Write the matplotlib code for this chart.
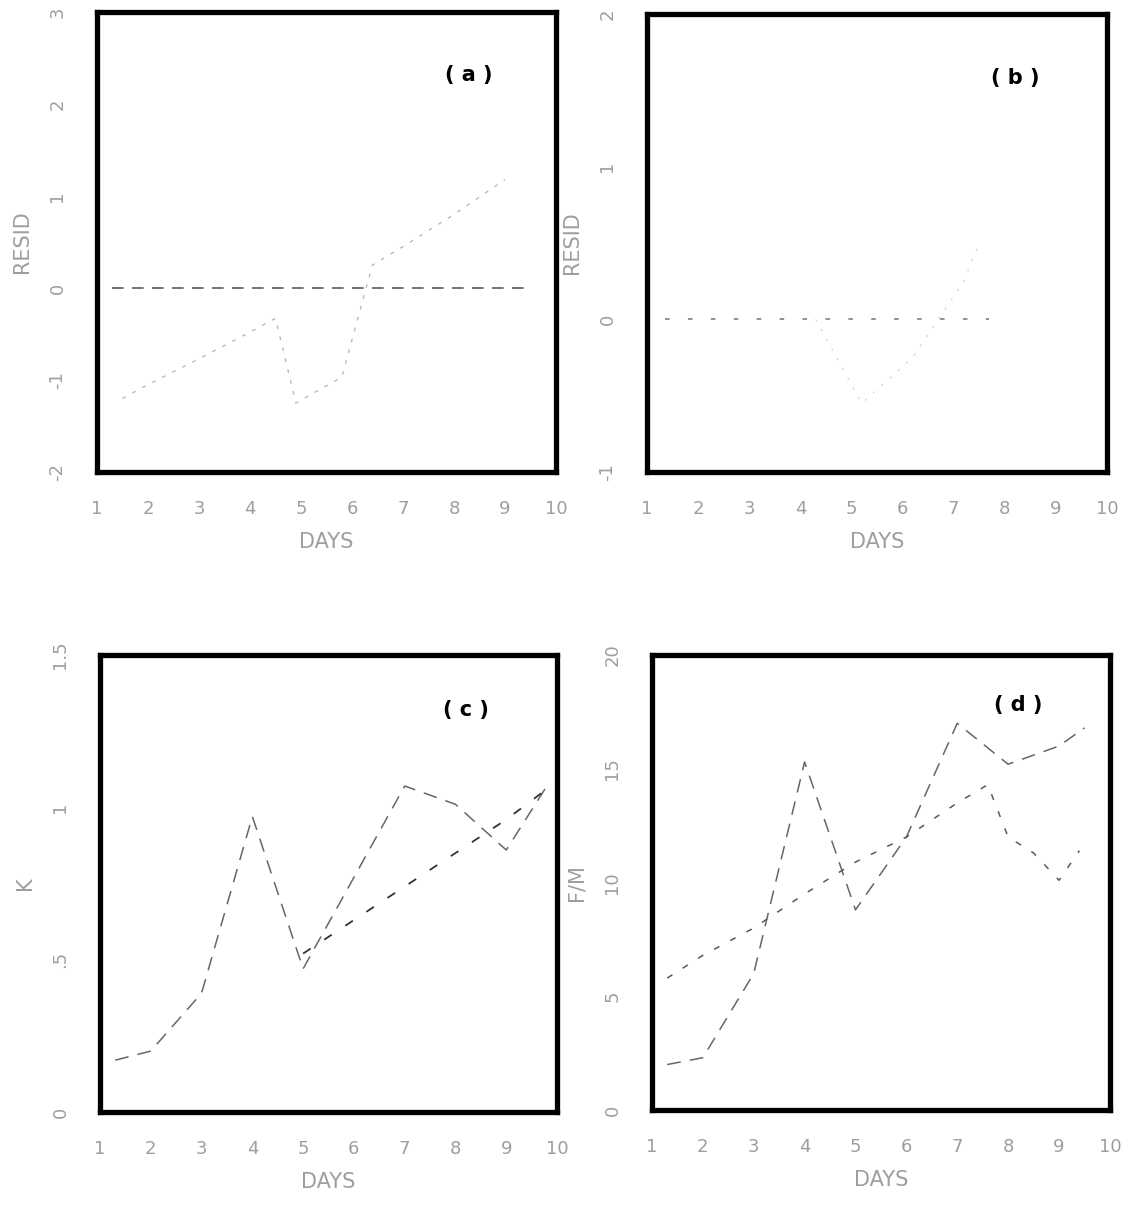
#!/usr/bin/env python
from matplotlib import pyplot as plt

# day ticks shared by every panel
days = [1, 2, 3, 4, 5, 6, 7, 8, 9, 10]

# panel (a): zero reference and residual sawtooth
a_zero_x = [1.3, 9.5]
a_zero_y = [0, 0]
a_res_x = [1.5, 2, 3, 4, 4.5, 4.9, 5.8, 6.4, 7, 8, 9]
a_res_y = [-1.2, -1.05, -0.77, -0.48, -0.33, -1.25, -0.97, 0.25, 0.45, 0.8, 1.18]
a_yticks = [-2, -1, 0, 1, 2, 3]

# panel (b): zero reference and faint trace
b_zero_x = [1.35, 7.7]
b_zero_y = [0, 0]
b_res_x = [4.3, 5.2, 6.2, 7.2, 7.5]
b_res_y = [0.0, -0.55, -0.25, 0.25, 0.5]
b_yticks = [-1, 0, 1, 2]

# panel (c)
c_obs_x = [1.3, 2, 3, 4, 5, 6, 7, 8, 9, 9.8]
c_obs_y = [0.17, 0.2, 0.39, 0.97, 0.47, 0.77, 1.07, 1.01, 0.86, 1.07]
c_fit_x = [5, 6, 7, 8, 9, 9.8]
c_fit_y = [0.52, 0.63, 0.74, 0.85, 0.96, 1.06]
c_yticks = [0, 0.5, 1, 1.5]
c_ylabels = ["0", ".5", "1", "1.5"]

# panel (d)
d_obs_x = [1.3, 2, 3, 4, 5, 6, 7, 8, 9, 9.5]
d_obs_y = [2.0, 2.3, 6.0, 15.3, 8.8, 12.0, 17.0, 15.2, 16.0, 16.8]
d_fit_x = [1.3, 2, 3, 4, 5, 6, 7, 7.6, 8, 8.5, 9, 9.4]
d_fit_y = [5.8, 6.8, 8.0, 9.5, 10.9, 12.0, 13.5, 14.3, 12.0, 11.3, 10.1, 11.4]
d_yticks = [0, 5, 10, 15, 20]

faint = '0.62'

fig = plt.figure(figsize=(11.26, 12.05), dpi=100)
axA = fig.add_axes([0.0861, 0.6083, 0.4077, 0.3817])
axB = fig.add_axes([0.5746, 0.6083, 0.4085, 0.3801])
axC = fig.add_axes([0.0888, 0.0772, 0.4059, 0.3792])
axD = fig.add_axes([0.5790, 0.0788, 0.4067, 0.3776])


def frame(ax, tag, ylim, yticks, ylabels, ylabel, tagpos):
    ax.set_xlim(1, 10)
    ax.set_ylim(*ylim)
    ax.set_xticks(days)
    ax.set_xticklabels([str(d) for d in days], color=faint, fontsize=13)
    ax.set_yticks(yticks)
    ax.set_yticklabels(ylabels, color=faint, fontsize=13, rotation=90, va='center')
    ax.tick_params(length=0)
    ax.tick_params(axis='x', pad=20)
    ax.tick_params(axis='y', pad=22)
    for s in ax.spines.values():
        s.set_linewidth(3.8)
        s.set_color('black')
    ax.set_xlabel("DAYS", color=faint, fontsize=15, labelpad=10)
    ax.set_ylabel(ylabel, color=faint, fontsize=15, labelpad=12)
    ax.text(tagpos[0], tagpos[1], tag, transform=ax.transAxes, ha='center', va='center',
            fontsize=15, fontweight='bold')


axA.plot(a_zero_x, a_zero_y, color='0.35', lw=1.2, ls=(0, (7, 5)))
axA.plot(a_res_x, a_res_y, color='0.7', lw=0.9, ls=(0, (3, 6)))
frame(axA, "( a )", (-2, 3), a_yticks, [str(v) for v in a_yticks], "RESID", (0.81, 0.863))

axB.plot(b_zero_x, b_zero_y, color='0.45', lw=1.1, ls=(0, (3, 12)))
axB.plot(b_res_x, b_res_y, color='0.8', lw=0.8, ls=(0, (2, 8)))
frame(axB, "( b )", (-1, 2), b_yticks, [str(v) for v in b_yticks], "RESID", (0.80, 0.86))

axC.plot(c_obs_x, c_obs_y, color='0.4', lw=1.1, ls=(0, (9, 6)))
axC.plot(c_fit_x, c_fit_y, color='0.2', lw=1.3, ls=(0, (5, 9)))
frame(axC, "( c )", (0, 1.5), c_yticks, c_ylabels, "K", (0.80, 0.88))

axD.plot(d_obs_x, d_obs_y, color='0.4', lw=1.1, ls=(0, (9, 6)))
axD.plot(d_fit_x, d_fit_y, color='0.35', lw=1.1, ls=(0, (4, 8)))
frame(axD, "( d )", (0, 20), d_yticks, [str(v) for v in d_yticks], "F/M", (0.80, 0.89))

plt.savefig("out.png", dpi=100)
